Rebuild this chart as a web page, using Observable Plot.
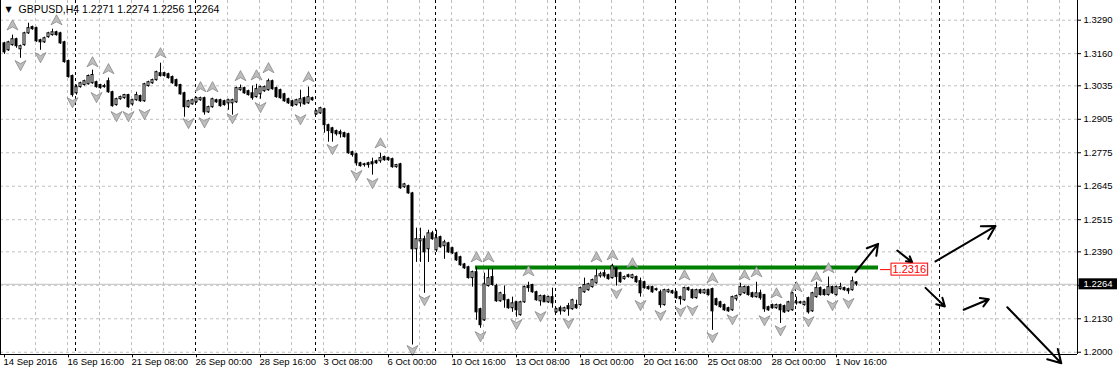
<!DOCTYPE html>
<html>
<head>
<meta charset="utf-8">
<script src="https://cdn.jsdelivr.net/npm/d3@7"></script>
<script src="https://cdn.jsdelivr.net/npm/@observablehq/plot@0.6"></script>
<style>
  html, body { margin: 0; padding: 0; background: #ffffff; }
  #chart svg { display: block; }
</style>
</head>
<body>
<div id="chart"></div>
<script>
// ---- GBPUSD H4 candles (bar index 0 = 14 Sep 2016 00:00) ----
const openP = [
1.3200,1.3173,1.3193,1.3216,1.3177,1.3193,1.3239,1.3263,1.3259,1.3212,
1.3204,1.3224,1.3232,1.3243,1.3239,1.3204,1.3131,1.3073,1.3006,1.3030,
1.3038,1.3041,1.3045,1.3049,1.3038,1.3030,1.3053,1.3010,1.2960,1.2983,
1.2987,1.2999,1.2963,1.2979,1.2995,1.2975,1.3034,1.3045,1.3057,1.3084,
1.3084,1.3080,1.3069,1.3057,1.3038,1.3006,1.2952,1.2963,1.2971,1.2979,
1.2987,1.2932,1.2952,1.2979,1.2979,1.2975,1.2967,1.2967,1.2971,1.3018,
1.3026,1.3014,1.3006,1.2991,1.3002,1.3014,1.3018,1.3053,1.3026,1.3018,
1.3002,1.2983,1.2975,1.2960,1.2967,1.2987,1.2967,1.2987,1.2924,1.2928,
1.2944,1.2882,1.2870,1.2859,1.2855,1.2851,1.2847,1.2777,1.2769,1.2734,
1.2730,1.2734,1.2738,1.2742,1.2742,1.2758,1.2754,1.2750,1.2719,1.2730,
1.2641,1.2645,1.2617,1.2400,1.2431,1.2439,1.2400,1.2462,1.2396,1.2447,
1.2412,1.2423,1.2404,1.2384,1.2369,1.2341,1.2330,1.2288,1.2311,1.2167,
1.2124,1.2257,1.2292,1.2257,1.2198,1.2222,1.2202,1.2171,1.2194,1.2144,
1.2194,1.2257,1.2261,1.2233,1.2198,1.2218,1.2194,1.2214,1.2155,1.2171,
1.2159,1.2179,1.2167,1.2183,1.2183,1.2233,1.2241,1.2253,1.2268,1.2295,
1.2307,1.2299,1.2288,1.2326,1.2307,1.2284,1.2299,1.2288,1.2292,1.2276,
1.2272,1.2253,1.2253,1.2241,1.2233,1.2183,1.2233,1.2237,1.2233,1.2214,
1.2202,1.2249,1.2241,1.2210,1.2241,1.2229,1.2241,1.2245,1.2206,1.2194,
1.2183,1.2171,1.2163,1.2206,1.2222,1.2229,1.2253,1.2229,1.2214,1.2229,
1.2222,1.2175,1.2183,1.2171,1.2183,1.2179,1.2159,1.2163,1.2190,1.2194,
1.2183,1.2210,1.2159,1.2214,1.2249,1.2241,1.2222,1.2253,1.2222,1.2245,
1.2249,1.2245,1.2241,1.2271];
const highP = [
1.3204,1.3208,1.3232,1.3220,1.3193,1.3243,1.3278,1.3267,1.3263,1.3216,
1.3224,1.3243,1.3255,1.3247,1.3243,1.3208,1.3135,1.3077,1.3038,1.3049,
1.3057,1.3077,1.3096,1.3053,1.3041,1.3041,1.3065,1.3014,1.2987,1.2995,
1.3002,1.3002,1.2983,1.3010,1.2999,1.3045,1.3053,1.3061,1.3092,1.3123,
1.3088,1.3084,1.3073,1.3061,1.3041,1.3010,1.2979,1.2983,1.2991,1.2991,
1.2991,1.2956,1.2987,1.2983,1.2983,1.2979,1.2983,1.2983,1.3030,1.3038,
1.3030,1.3018,1.3034,1.3041,1.3034,1.3034,1.3061,1.3057,1.3030,1.3022,
1.3006,1.2987,1.2979,1.2983,1.3018,1.2991,1.3030,1.2991,1.2940,1.2952,
1.2948,1.2886,1.2874,1.2863,1.2863,1.2855,1.2851,1.2781,1.2773,1.2738,
1.2734,1.2738,1.2754,1.2746,1.2773,1.2762,1.2758,1.2754,1.2730,1.2734,
1.2656,1.2649,1.2621,1.2482,1.2482,1.2451,1.2474,1.2470,1.2474,1.2451,
1.2435,1.2427,1.2408,1.2388,1.2373,1.2345,1.2334,1.2315,1.2330,1.2171,
1.2307,1.2323,1.2323,1.2264,1.2233,1.2257,1.2206,1.2214,1.2198,1.2198,
1.2257,1.2272,1.2264,1.2237,1.2222,1.2222,1.2218,1.2249,1.2171,1.2179,
1.2175,1.2190,1.2206,1.2202,1.2253,1.2288,1.2268,1.2284,1.2323,1.2311,
1.2319,1.2303,1.2342,1.2330,1.2311,1.2296,1.2303,1.2303,1.2296,1.2288,
1.2276,1.2257,1.2257,1.2249,1.2241,1.2245,1.2245,1.2241,1.2237,1.2218,
1.2253,1.2253,1.2245,1.2245,1.2245,1.2245,1.2245,1.2249,1.2210,1.2198,
1.2187,1.2175,1.2218,1.2222,1.2268,1.2257,1.2257,1.2233,1.2272,1.2241,
1.2225,1.2179,1.2187,1.2187,1.2187,1.2183,1.2198,1.2233,1.2214,1.2198,
1.2198,1.2214,1.2233,1.2272,1.2253,1.2245,1.2292,1.2257,1.2257,1.2268,
1.2253,1.2249,1.2292,1.2274];
const lowP = [
1.3157,1.3169,1.3189,1.3181,1.3142,1.3189,1.3235,1.3251,1.3204,1.3173,
1.3200,1.3220,1.3228,1.3228,1.3196,1.3123,1.3065,1.2991,1.2999,1.3026,
1.3034,1.3038,1.3041,1.3026,1.3022,1.3026,1.3006,1.2952,1.2956,1.2979,
1.2983,1.2948,1.2956,1.2975,1.2971,1.2971,1.3030,1.3041,1.3053,1.3069,
1.3069,1.3061,1.3041,1.3030,1.2999,1.2913,1.2948,1.2960,1.2967,1.2975,
1.2921,1.2928,1.2948,1.2967,1.2952,1.2956,1.2940,1.2921,1.2967,1.3014,
1.3002,1.2995,1.2979,1.2987,1.2983,1.3010,1.3014,1.3018,1.2987,1.2983,
1.2971,1.2963,1.2952,1.2956,1.2952,1.2960,1.2963,1.2975,1.2921,1.2924,
1.2851,1.2816,1.2816,1.2840,1.2832,1.2832,1.2769,1.2758,1.2723,1.2719,
1.2719,1.2715,1.2688,1.2730,1.2734,1.2742,1.2742,1.2715,1.2715,1.2633,
1.2637,1.2614,1.2028,1.2349,1.2349,1.2229,1.2349,1.2435,1.2388,1.2404,
1.2361,1.2384,1.2380,1.2353,1.2334,1.2322,1.2284,1.2253,1.2124,1.2093,
1.2120,1.2253,1.2257,1.2194,1.2194,1.2171,1.2167,1.2155,1.2136,1.2140,
1.2190,1.2233,1.2229,1.2198,1.2179,1.2194,1.2190,1.2171,1.2151,1.2144,
1.2155,1.2140,1.2163,1.2167,1.2179,1.2229,1.2237,1.2249,1.2264,1.2288,
1.2288,1.2280,1.2284,1.2257,1.2268,1.2280,1.2288,1.2284,1.2268,1.2214,
1.2245,1.2241,1.2229,1.2237,1.2171,1.2179,1.2229,1.2225,1.2206,1.2183,
1.2198,1.2237,1.2206,1.2206,1.2225,1.2225,1.2218,1.2085,1.2179,1.2171,
1.2159,1.2155,1.2159,1.2198,1.2218,1.2225,1.2218,1.2210,1.2210,1.2202,
1.2155,1.2159,1.2167,1.2167,1.2112,1.2151,1.2155,1.2159,1.2183,1.2187,
1.2179,1.2148,1.2155,1.2210,1.2218,1.2218,1.2218,1.2225,1.2218,1.2241,
1.2237,1.2225,1.2237,1.2256];
const closeP = [
1.3165,1.3204,1.3216,1.3189,1.3189,1.3239,1.3259,1.3255,1.3208,1.3204,
1.3220,1.3239,1.3243,1.3232,1.3200,1.3127,1.3069,1.2999,1.3030,1.3045,
1.3053,1.3073,1.3077,1.3030,1.3026,1.3034,1.3010,1.2956,1.2983,1.2991,
1.2999,1.2952,1.2979,1.2999,1.2975,1.3041,1.3049,1.3057,1.3088,1.3073,
1.3073,1.3065,1.3045,1.3034,1.3002,1.2952,1.2975,1.2979,1.2987,1.2987,
1.2932,1.2952,1.2983,1.2971,1.2956,1.2960,1.2979,1.2979,1.3026,1.3026,
1.3006,1.2999,1.2987,1.3022,1.3030,1.3030,1.3053,1.3022,1.2991,1.2987,
1.2975,1.2967,1.2956,1.2979,1.2983,1.2963,1.2991,1.2979,1.2936,1.2948,
1.2882,1.2859,1.2851,1.2847,1.2847,1.2836,1.2773,1.2766,1.2734,1.2723,
1.2727,1.2727,1.2730,1.2734,1.2754,1.2746,1.2746,1.2719,1.2727,1.2637,
1.2652,1.2617,1.2400,1.2439,1.2439,1.2388,1.2462,1.2439,1.2443,1.2408,
1.2427,1.2388,1.2384,1.2357,1.2338,1.2326,1.2288,1.2311,1.2155,1.2105,
1.2264,1.2288,1.2261,1.2198,1.2229,1.2202,1.2171,1.2190,1.2163,1.2194,
1.2253,1.2249,1.2233,1.2202,1.2218,1.2194,1.2214,1.2190,1.2167,1.2159,
1.2171,1.2167,1.2202,1.2171,1.2249,1.2261,1.2264,1.2280,1.2295,1.2303,
1.2295,1.2284,1.2334,1.2292,1.2272,1.2292,1.2292,1.2299,1.2272,1.2229,
1.2249,1.2245,1.2233,1.2245,1.2183,1.2241,1.2241,1.2229,1.2210,1.2206,
1.2249,1.2241,1.2210,1.2241,1.2229,1.2241,1.2222,1.2159,1.2183,1.2175,
1.2163,1.2159,1.2214,1.2218,1.2253,1.2253,1.2222,1.2214,1.2229,1.2210,
1.2167,1.2163,1.2171,1.2183,1.2163,1.2155,1.2194,1.2229,1.2194,1.2190,
1.2194,1.2155,1.2229,1.2249,1.2222,1.2222,1.2253,1.2229,1.2253,1.2253,
1.2241,1.2237,1.2276,1.2264];

// ---- Fractals (bar index, price) ----
const fracUpBar = [2,13,22,26,39,49,52,59,63,66,76,94,118,121,131,148,152,157,170,177,185,188,193,198,203,206];
const fracUpPrice = [1.3235,1.3255,1.3092,1.3065,1.3127,1.2995,1.2995,1.3038,1.3041,1.3069,1.3034,1.2777,1.2334,1.2334,1.2280,1.2334,1.2342,1.2311,1.2264,1.2253,1.2264,1.2276,1.2194,1.2218,1.2257,1.2292];
const fracDownBar = [4,9,17,23,28,31,35,46,50,57,64,74,82,88,92,102,105,119,128,134,141,153,159,164,169,172,177,182,190,194,201,207,211];
const fracDownPrice = [1.3146,1.3177,1.3002,1.3022,1.2948,1.2948,1.2956,1.2921,1.2924,1.2940,1.2983,1.2936,1.2820,1.2719,1.2688,1.2039,1.2233,1.2093,1.2140,1.2171,1.2144,1.2260,1.2214,1.2175,1.2190,1.2194,1.2089,1.2159,1.2155,1.2116,1.2151,1.2214,1.2222];

// ---- Forecast arrows (bar index / price) ----
const arrowFromBar = [212.75, 223.2, 230.25, 232.75, 239.8, 250.7];
const arrowFromPrice = [1.2311, 1.2395, 1.2250, 1.2353, 1.2165, 1.2175];
const arrowToBar = [218.4, 226.9, 235.1, 247.75, 246.1, 264.2];
const arrowToPrice = [1.2421, 1.2350, 1.2178, 1.2490, 1.2206, 1.1957];

// ---- Resistance level and its price label ----
const levelStartBar = [117.75];
const levelEndBar = [218.5];
const levelPrice = [1.2329];
const labelLineBar = [219, 221.6];
const labelBar = [222];
const labelPrice = [1.2321];
const labelText = ["1.2316"];

// ---- Current price ----
const lastPrice = [1.2264];
const lastPriceText = ["1.2264"];
const titleText = ["GBPUSD,H4 1.2271 1.2274 1.2256 1.2264"];

// ---- Axes ----
const xTickBars = [0,16,32,48,64,80,96,112,128,144,160,176,192,208];
const xTickLabels = ["14 Sep 2016","16 Sep 16:00","21 Sep 08:00","26 Sep 00:00","28 Sep 16:00","3 Oct 08:00","6 Oct 00:00","10 Oct 16:00","13 Oct 08:00","18 Oct 00:00","20 Oct 16:00","25 Oct 08:00","28 Oct 00:00","1 Nov 16:00"];
const yTicks = [1.2000,1.2130,1.2260,1.2390,1.2515,1.2645,1.2775,1.2905,1.3035,1.3160,1.3290];
const yTickLabels = ["1.2000","1.2130","1.2260","1.2390","1.2515","1.2645","1.2775","1.2905","1.3035","1.3160","1.3290"];
const weekSeparators = [17.75, 47.75, 77.75, 107.75, 137.75, 167.75, 197.75, 233.75];
const gridBars = [7.75,15.75,23.75,31.75,39.75,47.75,55.75,63.75,71.75,79.75,87.75,95.75,103.75,111.75,119.75,127.75,135.75,143.75,151.75,159.75,167.75,175.75,183.75,191.75,199.75,207.75,215.75,223.75,231.75,239.75,247.75,255.75,263.75];

const xDomain = [-1, 268.25];
const yDomain = [1.19912, 1.33665];

// ---- derived tables ----
const bars = openP.map((o, i) => ({i, o, h: highP[i], l: lowP[i], c: closeP[i]}));
const fracUp = fracUpBar.map((b, k) => ({b, p: fracUpPrice[k]}));
const fracDown = fracDownBar.map((b, k) => ({b, p: fracDownPrice[k]}));
const arrows = arrowFromBar.map((b, k) => ({x1: b, y1: arrowFromPrice[k], x2: arrowToBar[k], y2: arrowToPrice[k]}));
const level = levelPrice.map((p, k) => ({p, a: levelStartBar[k], b: levelEndBar[k]}));
const xTicks = xTickBars.map((b, k) => ({b, t: xTickLabels[k]}));
const yTickItems = yTicks.map((v, k) => ({v, t: yTickLabels[k]}));

const upSym = {draw(ctx, size) { const r = Math.sqrt(size / Math.PI);
  ctx.moveTo(0, -r); ctx.lineTo(r, r * 0.85); ctx.lineTo(0, r * 0.3); ctx.lineTo(-r, r * 0.85); ctx.closePath(); }};
const downSym = {draw(ctx, size) { const r = Math.sqrt(size / Math.PI);
  ctx.moveTo(0, r); ctx.lineTo(r, -r * 0.85); ctx.lineTo(0, -r * 0.3); ctx.lineTo(-r, -r * 0.85); ctx.closePath(); }};

const gridColor = "#c0c0c0";

const chart = Plot.plot({
  width: 1117, height: 375,
  marginLeft: 0, marginRight: 40, marginTop: 0, marginBottom: 21,
  x: {domain: xDomain, axis: null},
  y: {domain: yDomain, axis: null},
  style: {fontFamily: "'Liberation Sans', Arial, sans-serif", fontSize: "9.5px", color: "black", background: "white", overflow: "visible"},
  marks: [
    Plot.ruleY(yTicks, {stroke: gridColor, strokeDasharray: "3,3"}),
    Plot.ruleX(gridBars, {stroke: gridColor, strokeDasharray: "3,3"}),
    Plot.ruleX(weekSeparators, {stroke: "black", strokeDasharray: "3,3"}),
    Plot.ruleY(lastPrice, {stroke: gridColor}),
    Plot.ruleY(level, {y: "p", x1: "a", x2: "b", stroke: "#008000", strokeWidth: 4}),
    Plot.ruleX(bars, {x: "i", y1: "l", y2: "h", stroke: "black"}),
    Plot.rect(bars, {x1: d => d.i - 0.25, x2: d => d.i + 0.25, y1: "o", y2: "c",
      fill: d => d.c >= d.o ? "white" : "black", stroke: "black"}),
    Plot.dot(fracUp, {x: "b", y: "p", symbol: upSym, r: 5.5, fill: "#bdbdbd", stroke: "#808080", strokeWidth: 0.7, dy: -9}),
    Plot.dot(fracDown, {x: "b", y: "p", symbol: downSym, r: 5.5, fill: "#bdbdbd", stroke: "#808080", strokeWidth: 0.7, dy: 8}),
    Plot.arrow(arrows, {x1: "x1", y1: "y1", x2: "x2", y2: "y2", stroke: "black", strokeWidth: 2, headLength: 11}),
    Plot.ruleY(labelPrice, {x1: labelLineBar[0], x2: labelLineBar[1], stroke: "red"}),
    Plot.text(labelText, {x: labelBar, y: labelPrice, text: d => d, fill: "red", textAnchor: "start", fontSize: 11}),
    Plot.ruleX([xDomain[0], xDomain[1]], {stroke: "black"}),
    Plot.ruleY([yDomain[0]], {stroke: "black"}),
    Plot.ruleY(yTicks, {x1: xDomain[1], x2: xDomain[1] + 1, stroke: "black"}),
    Plot.ruleX(xTickBars, {y1: yDomain[0], y2: yDomain[0] - 0.0013, stroke: "black"}),
    Plot.text(yTickItems, {y: "v", text: "t", frameAnchor: "right", textAnchor: "start", dx: 6}),
    Plot.text(xTicks, {x: "b", text: "t", frameAnchor: "bottom", textAnchor: "start", lineAnchor: "top", dy: 4, dx: -1}),
    Plot.text(lastPriceText, {y: lastPrice, text: d => d, frameAnchor: "right", textAnchor: "start", dx: 6, fill: "white"}),
    Plot.text(["▼"], {frameAnchor: "top-left", textAnchor: "start", lineAnchor: "top", dx: 5, dy: 6, fontSize: 8, fontFamily: "DejaVu Sans"}),
    Plot.text(titleText, {frameAnchor: "top-left", textAnchor: "start", lineAnchor: "top", dx: 18, dy: 5, fontSize: 10.5})
  ]
});

document.getElementById("chart").append(chart);

// draw boxes behind the two price labels, sized from the rendered text
function boxBehind(content, color, fill, stroke, padL, padR, padY) {
  chart.querySelectorAll("text").forEach(t => {
    const f = t.getAttribute("fill") || (t.parentNode && t.parentNode.getAttribute("fill"));
    if (t.textContent !== content || f !== color) return;
    const b = t.getBBox();
    const r = document.createElementNS("http://www.w3.org/2000/svg", "rect");
    r.setAttribute("x", b.x - padL);
    r.setAttribute("y", b.y - padY);
    r.setAttribute("width", b.width + padL + padR);
    r.setAttribute("height", b.height + 2 * padY);
    r.setAttribute("fill", fill);
    if (stroke) r.setAttribute("stroke", stroke);
    const tr = t.getAttribute("transform");
    if (tr) r.setAttribute("transform", tr);
    t.parentNode.insertBefore(r, t);
  });
}
boxBehind(lastPriceText[0], "white", "black", null, 5, 12, 0);
boxBehind(labelText[0], "red", "white", "red", 1.5, 1.5, 0);
</script>
</body>
</html>
